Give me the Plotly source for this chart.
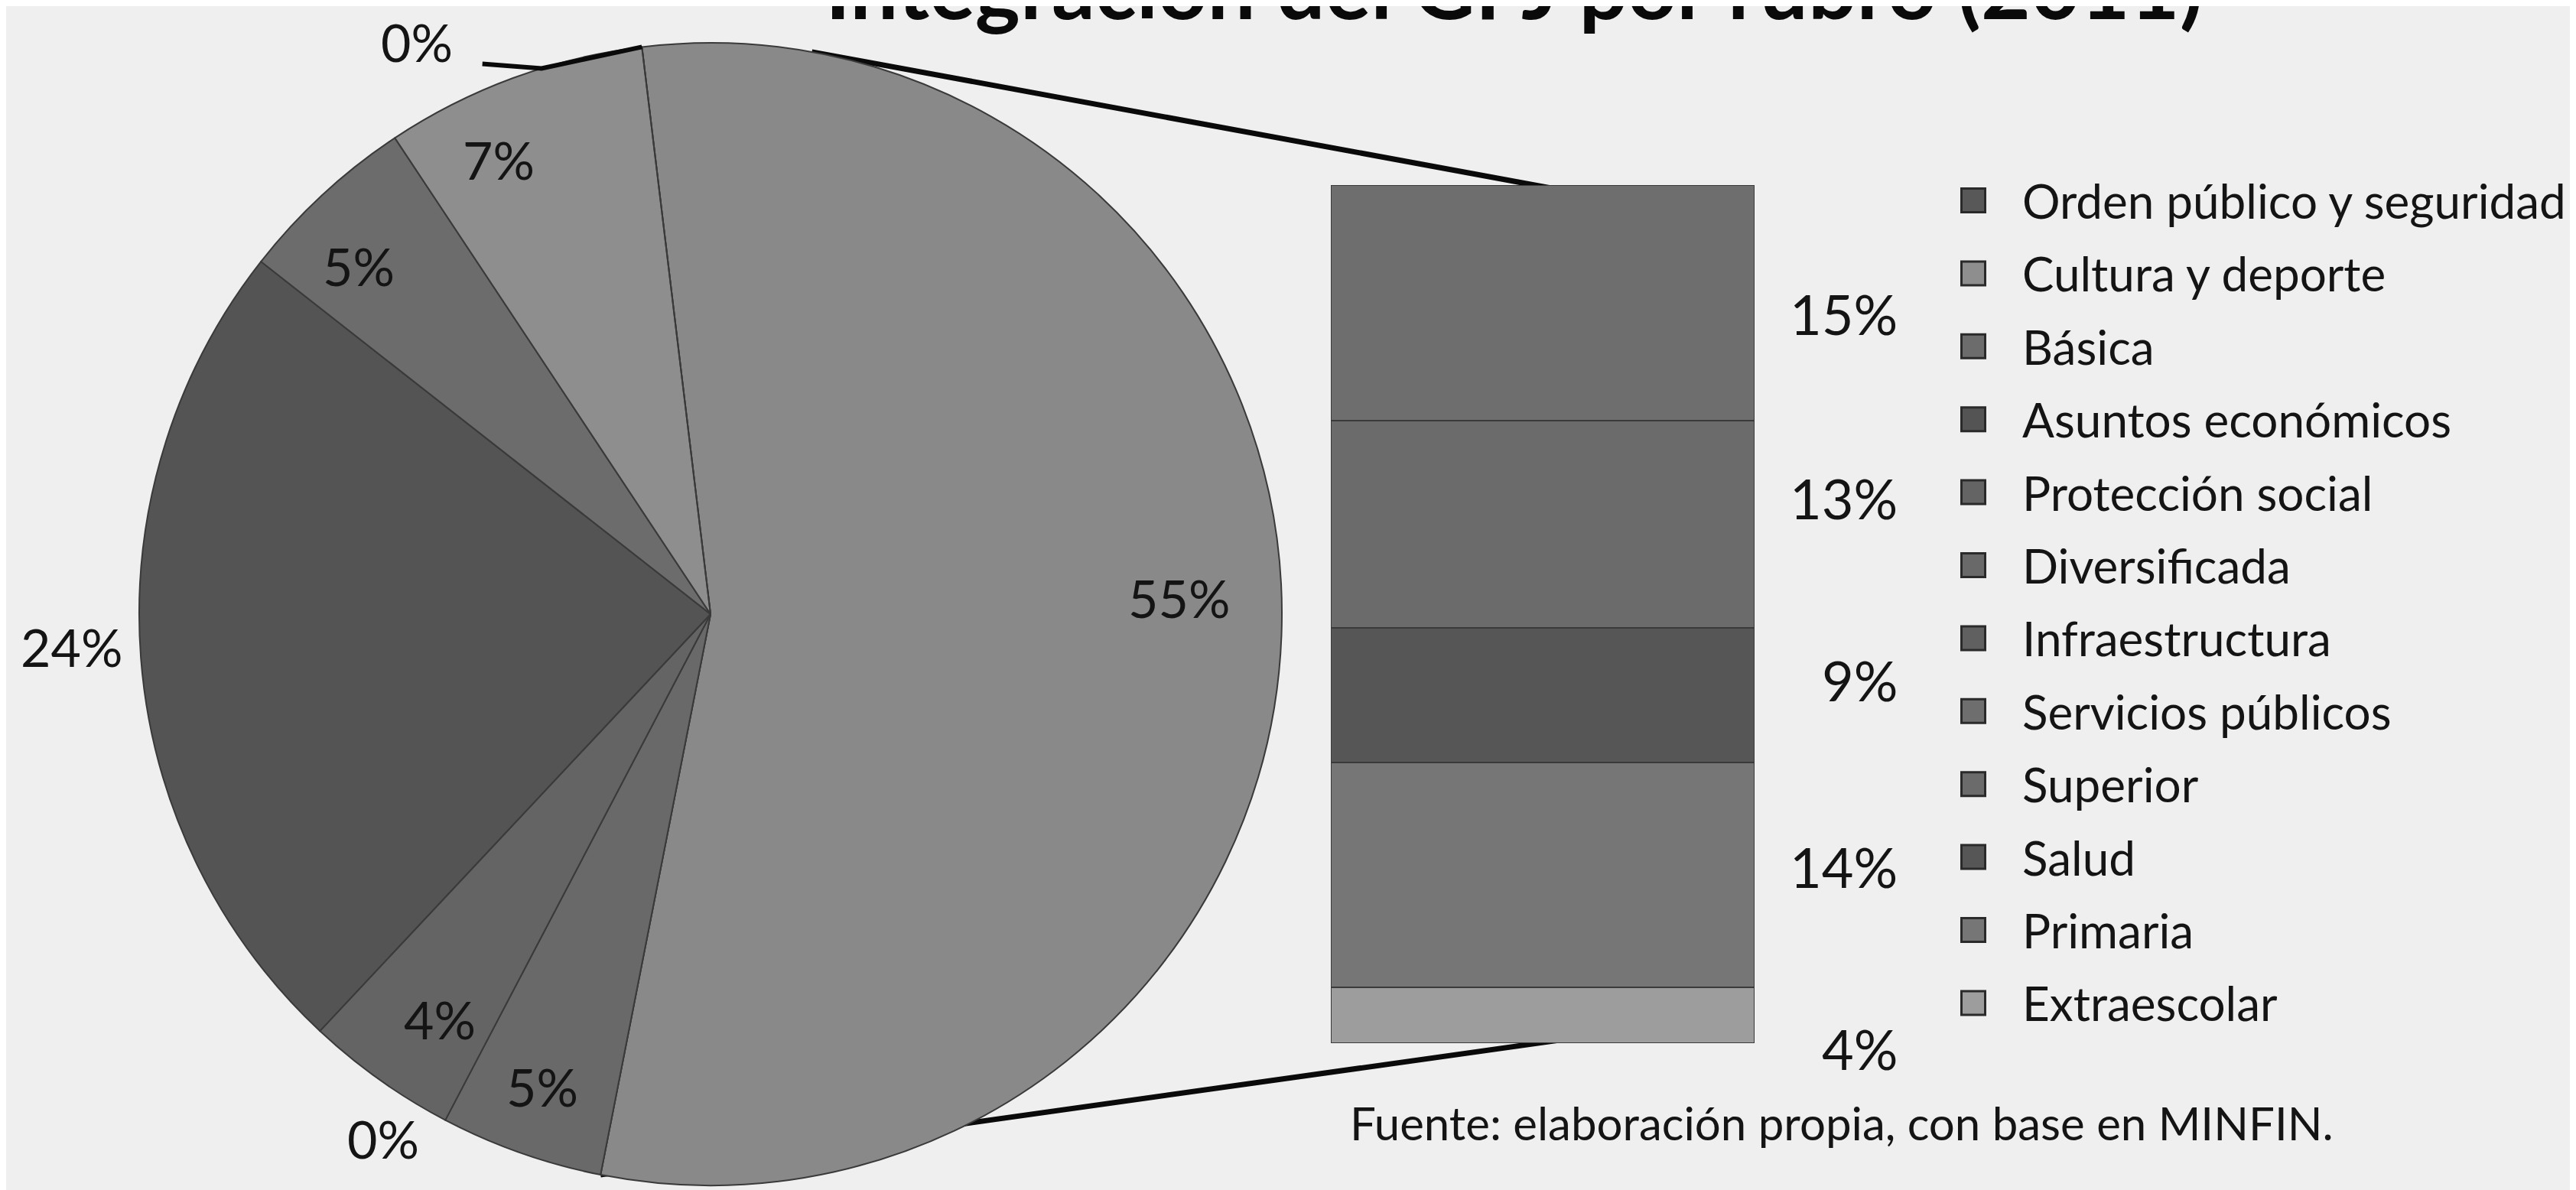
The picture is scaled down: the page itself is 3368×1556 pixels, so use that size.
import math
import plotly.graph_objects as go

W, H = 3368, 1556

# ---------------- data ----------------
categories = ["Orden público y seguridad", "Cultura y deporte", "Básica", "Asuntos económicos",
              "Protección social", "Diversificada", "Infraestructura", "Servicios públicos",
              "Superior", "Salud", "Primaria", "Extraescolar"]
values = [0.0, 7.4, 5.1, 23.6, 4.3, 4.6, 0.0, 15.1, 13.3, 8.6, 14.4, 3.6]
n_pie = 7                      # first 7 categories in the pie, rest grouped in the bar
other_label = "Otros"
title_text = "Integración del GPJ por rubro (2011)"
source_text = "Fuente: elaboración propia, con base en MINFIN."

# ---------------- styles ----------------
colors = {
    "Orden público y seguridad": "#585858",
    "Cultura y deporte": "#8e8e8e",
    "Básica": "#6c6c6c",
    "Asuntos económicos": "#545454",
    "Protección social": "#646464",
    "Diversificada": "#696969",
    "Infraestructura": "#606060",
    "Servicios públicos": "#6e6e6e",
    "Superior": "#6b6b6b",
    "Salud": "#565656",
    "Primaria": "#767676",
    "Extraescolar": "#9d9d9d",
}
other_color = "#898989"
FONT = "Lato"
TXT = "#141414"
BG = "#efefef"

# pie geometry (pixels)
cx, cy, R = 921, 795, 747
rotation = -6.9
# bar geometry (pixels)
bx0, bx1, by0, by1 = 1732, 2286, 234, 1356

# label placement per pie slice: (radius factor, angle offset)
pie_label_style = {
    other_label: (0.82, -3.5),
    "Infraestructura": (1.09, 20.6),
    "Diversificada": (0.886, 0),
    "Protección social": (0.86, -2),
    "Asuntos económicos": (1.12, 1),
    "Básica": (0.86, -3),
    "Cultura y deporte": (0.87, -5),
    "Orden público y seguridad": (1.118, -20.5),
}
bar_label_yshift = {"Servicios públicos": -14, "Superior": 35, "Salud": 20,
                    "Primaria": 11, "Extraescolar": -44}


def px(x):
    return x / W


def py(y):
    return 1 - y / H


def pct(v):
    return f"{round(v)}%"


pie_items = categories[:n_pie]
pie_vals = values[:n_pie]
bar_items = categories[n_pie:]
bar_vals = values[n_pie:]
other_val = sum(bar_vals)

# clockwise order starting with "Otros"
pie_labels = [other_label] + pie_items[::-1]
pie_values = [other_val] + pie_vals[::-1]
pie_colors = [other_color] + [colors[c] for c in pie_items[::-1]]

fig = go.Figure()

fig.add_trace(go.Pie(
    labels=pie_labels, values=pie_values, sort=False, direction="clockwise",
    rotation=rotation, textinfo="none", hoverinfo="label+percent",
    marker=dict(colors=pie_colors, line=dict(color="#3a3a3a", width=2)),
    domain=dict(x=[px(cx - R), px(cx + R)], y=[py(cy + R), py(cy - R)]),
    showlegend=False,
))

# stacked bar: bottom -> top
for cat, v in list(zip(bar_items, bar_vals))[::-1]:
    fig.add_trace(go.Bar(
        x=[0], y=[v], width=[1], name=cat, showlegend=False,
        marker=dict(color=colors[cat], line=dict(color="#3a3a3a", width=2)),
        xaxis="x", yaxis="y",
    ))

# manual legend (markers)
leg_x, leg_y0, leg_dy = 2572, 254, 95.4
fig.add_trace(go.Scatter(
    x=[leg_x] * len(categories), y=[leg_y0 + i * leg_dy for i in range(len(categories))],
    mode="markers", showlegend=False, hoverinfo="skip", cliponaxis=False,
    marker=dict(symbol="square", size=31, color=[colors[c] for c in categories],
                line=dict(color="#2a2a2a", width=3)),
    xaxis="x2", yaxis="y2",
))

annotations = []
for i, c in enumerate(categories):
    annotations.append(dict(
        x=2634, y=leg_y0 + i * leg_dy, xref="x2", yref="y2", text=c, showarrow=False,
        xanchor="left", yanchor="middle", font=dict(family=FONT, size=62, color=TXT)))

# pie labels
angle = rotation
slice_angles = {}
for lab, v in zip(pie_labels, pie_values):
    span = v / 100 * 360
    slice_angles[lab] = (angle, angle + span)
    rf, off = pie_label_style[lab]
    mid = angle + span / 2 + off
    a = math.radians(mid)
    lx = cx + rf * R * math.sin(a)
    ly = cy - rf * R * math.cos(a)
    annotations.append(dict(
        x=lx, y=ly, xref="x2", yref="y2", text=pct(v), showarrow=False, yshift=7,
        xanchor="center", yanchor="middle", font=dict(family=FONT, size=68, color=TXT)))
    angle += span

# bar labels
cum = 0
for cat, v in list(zip(bar_items, bar_vals))[::-1]:
    annotations.append(dict(
        x=0.5, y=cum + v / 2, xref="x", yref="y", text=pct(v), showarrow=False,
        xanchor="right", yanchor="middle", xshift=189, yshift=bar_label_yshift[cat],
        font=dict(family=FONT, size=72, color=TXT)))
    cum += v

# title (partly cut by the top edge, as in the source) and source note
annotations.append(dict(
    x=1972, y=43, xref="x2", yref="y2", text=f"<b>{title_text}</b>", showarrow=False,
    xanchor="center", yanchor="bottom", font=dict(family=FONT, size=112, color="#0a0a0a")))
annotations.append(dict(
    x=1755, y=1460, xref="x2", yref="y2", text=source_text, showarrow=False,
    xanchor="left", yanchor="middle", font=dict(family=FONT, size=60, color=TXT)))


def rim(a_deg, rf=1.0):
    a = math.radians(a_deg)
    return cx + rf * R * math.sin(a), cy - rf * R * math.cos(a)


def tangent_point(qx, qy, upper=True):
    dx, dy = qx - cx, qy - cy
    d = math.hypot(dx, dy)
    beta = math.acos(R / d)
    base = math.atan2(dy, dx)
    ang = base - beta if upper else base + beta
    return cx + R * math.cos(ang), cy + R * math.sin(ang)


o_start, o_end = slice_angles[other_label]
q_top = (bx0 + 0.52 * (bx1 - bx0), by0)
t_top = tangent_point(*q_top, upper=True)
p_bot = rim(o_end)
q_bot = (bx0 + 0.54 * (bx1 - bx0), by1)
shapes = [
    dict(type="line", xref="paper", yref="paper", layer="below",
         x0=px(t_top[0]), y0=py(t_top[1]), x1=px(q_top[0]), y1=py(q_top[1] + 4),
         line=dict(color="#0a0a0a", width=7)),
    dict(type="line", xref="paper", yref="paper", layer="below",
         x0=px(p_bot[0]), y0=py(p_bot[1]), x1=px(q_bot[0]), y1=py(q_bot[1] - 4),
         line=dict(color="#0a0a0a", width=7)),
]
# leader line for the top 0% label
lab0 = "Orden público y seguridad"
a0 = slice_angles[lab0][0]
rf0, off0 = pie_label_style[lab0]
lbl = rim(a0 + off0, rf0)
e1 = rim(a0 - 10.3)
e2 = rim(a0)
shapes.append(dict(
    type="path", xref="paper", yref="paper", layer="above",
    path=f"M {px(lbl[0] + 86)} {py(lbl[1] + 22)} L {px(e1[0])} {py(e1[1])} L {px(e2[0])} {py(e2[1])}",
    line=dict(color="#0a0a0a", width=6)))

fig.update_layout(
    width=W, height=H, margin=dict(l=0, r=0, t=0, b=0),
    paper_bgcolor=BG, plot_bgcolor="rgba(0,0,0,0)",
    barmode="stack", bargap=0,
    xaxis=dict(domain=[px(bx0), px(bx1)], range=[-0.5, 0.5], visible=False, fixedrange=True),
    yaxis=dict(domain=[py(by1), py(by0)], range=[0, other_val], visible=False, fixedrange=True),
    xaxis2=dict(domain=[0, 1], range=[0, W], visible=False, anchor="y2", fixedrange=True),
    yaxis2=dict(domain=[0, 1], range=[H, 0], visible=False, anchor="x2", fixedrange=True),
    annotations=annotations, shapes=shapes,
    font=dict(family=FONT, color=TXT),
    hovermode=False,
)

fig.write_html("out.html")
